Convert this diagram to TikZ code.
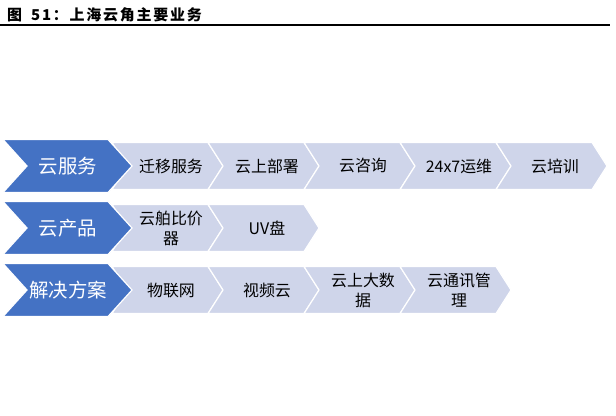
\documentclass[tikz,border=0pt]{standalone}
\usepackage{fontspec}
\setmainfont{Noto Sans CJK SC}
\newfontfamily\titlefont[LetterSpace=12]{Noto Sans CJK SC}
\definecolor{chevblue}{RGB}{68,114,196}
\definecolor{chevgray}{RGB}{207,213,234}
\tikzset{
  headbox/.style={fill=chevblue,draw=white,line width=1.2bp},
  itembox/.style={fill=chevgray,draw=white,line width=1.2bp},
  headtext/.style={text=white,font=\fontsize{19.5}{22}\selectfont},
  itemtext/.style={font=\fontsize{16}{20}\selectfont,align=center},
}
\begin{document}
\begin{tikzpicture}[x=1bp,y=-1bp]
\useasboundingbox (0,0) rectangle (616,415);
\node[anchor=base west,inner sep=0pt,font=\titlefont\bfseries\fontsize{15}{18}\selectfont] (title) at (7,20) {图\hspace{9bp}51：上海云角主要业务};
\draw[line width=1.5bp] (0,25) -- (610,25);

% row 1
\foreach \txt [count=\i] in {迁移服务,云上部署,云咨询,24x7运维,云培训}{
  \pgfmathsetmacro\xa{112+96*(\i-1)}
  \draw[itembox] (\xa,142.5) -- ++(96,0) -- ++(15,23.5) -- ++(-15,23.5) -- ++(-96,0) -- ++(15,-23.5) -- cycle;
  \node[itemtext] (svc-\i) at (\xa+59,166) {\txt};
}
% row 2
\foreach \txt [count=\i] in {{云舶比价\\器},UV盘}{
  \pgfmathsetmacro\xa{112+96*(\i-1)}
  \draw[itembox] (\xa,204.5) -- ++(96,0) -- ++(15,23.5) -- ++(-15,23.5) -- ++(-96,0) -- ++(15,-23.5) -- cycle;
  \node[itemtext] (prod-\i) at (\xa+59,228) {\txt};
}
% row 3
\foreach \txt [count=\i] in {物联网,视频云,{云上大数\\据},{云通讯管\\理}}{
  \pgfmathsetmacro\xa{112+96*(\i-1)}
  \draw[itembox] (\xa,266.5) -- ++(96,0) -- ++(15,23.5) -- ++(-15,23.5) -- ++(-96,0) -- ++(15,-23.5) -- cycle;
  \node[itemtext] (sol-\i) at (\xa+59,290) {\txt};
}

% heads
\foreach \y/\txt/\nm in {166/云服务/svc,228/云产品/prod,290/解决方案/sol}{
  \draw[headbox] (3,\y-26.5) -- (108,\y-26.5) -- (132,\y) -- (108,\y+26.5) -- (3,\y+26.5) -- (27,\y) -- cycle;
  \node[headtext] (\nm-head) at (68,\y) {\txt};
}
\end{tikzpicture}
\end{document}
